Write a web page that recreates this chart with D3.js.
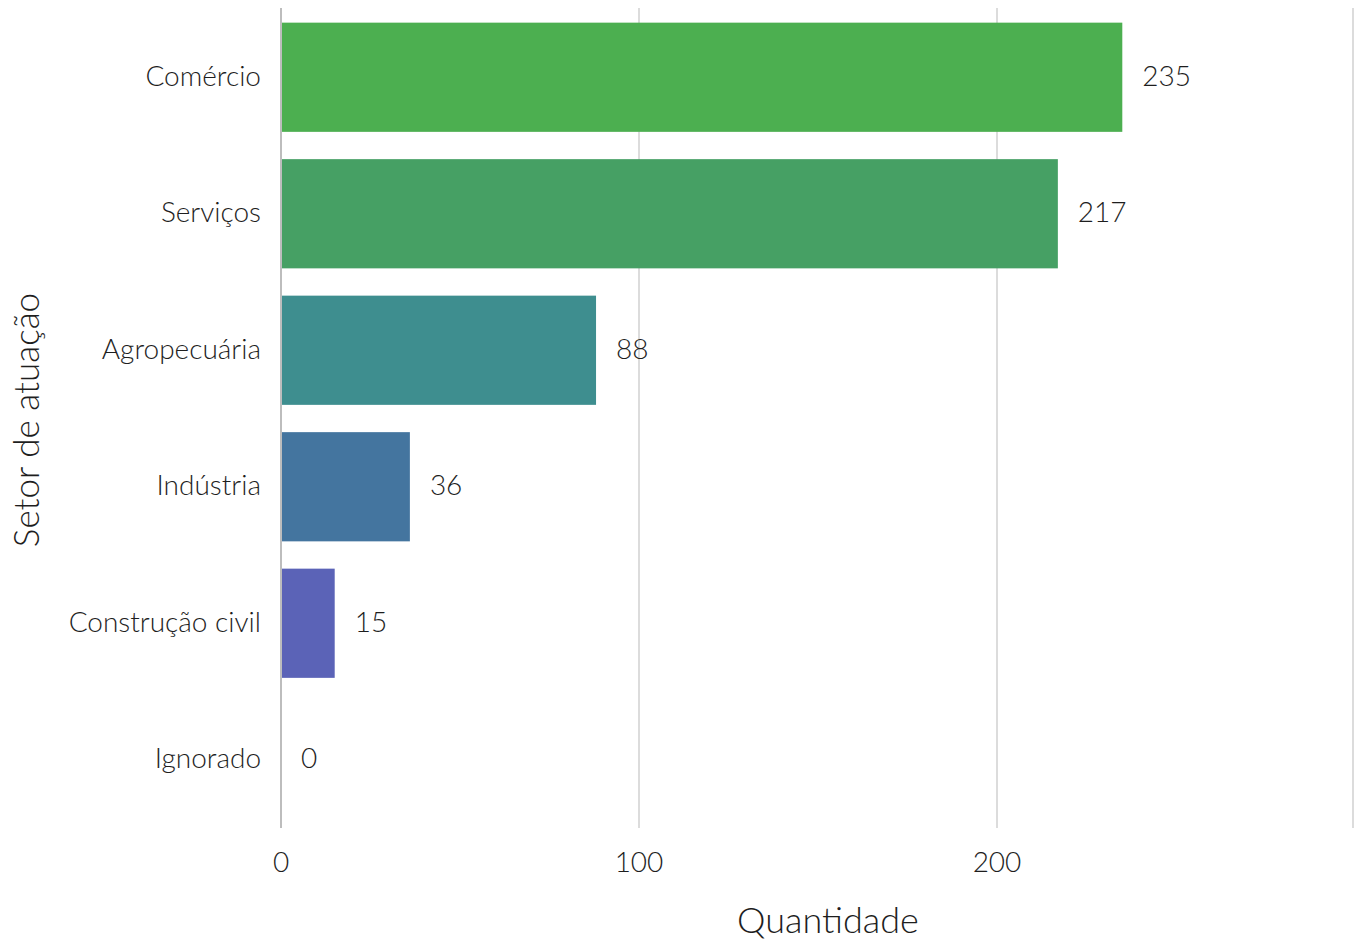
<!DOCTYPE html>
<html><head><meta charset="utf-8">
<script src="https://cdn.jsdelivr.net/npm/d3@7"></script>
<style>
html,body{margin:0;padding:0;background:#fff;}
text{font-family:Lato,sans-serif;font-weight:300;fill:#1e1e1e;}
</style></head>
<body><svg id="c" width="1361" height="942"></svg>
<script>
const categories = ["Comércio","Serviços","Agropecuária","Indústria","Construção civil","Ignorado"];
const values = [235,217,88,36,15,0];
const colors = ["#4caf50","#46a064","#3e8e8f","#44759f","#5b63b7","#9a8fb0"];
const xTicks = [0,100,200,300];
const xTickLabels = ["0","100","200",""];

const svg = d3.select("#c");
const x = d3.scaleLinear().domain([0,300]).range([281,1355]);
const y = d3.scaleBand().domain(categories).range([9,828]).paddingInner(0.2).paddingOuter(0.1);

// gridlines
svg.append("g").selectAll("line").data(xTicks.slice(1)).join("line")
  .attr("x1",d=>Math.min(1353,x(d))).attr("x2",d=>Math.min(1353,x(d))).attr("y1",8).attr("y2",828)
  .attr("stroke","#dcdcdc").attr("stroke-width",2);

// bars
svg.append("g").selectAll("rect").data(values).join("rect")
  .attr("x",x(0)).attr("y",(d,i)=>y(categories[i]))
  .attr("width",d=>Math.max(0,x(d)-x(0))).attr("height",y.bandwidth())
  .attr("fill",(d,i)=>colors[i]);

// zero line
svg.append("line").attr("x1",x(0)).attr("x2",x(0)).attr("y1",8).attr("y2",828)
  .attr("stroke","#bdbdbd").attr("stroke-width",2);

// value labels
svg.append("g").selectAll("text").data(values).join("text")
  .attr("x",d=>x(d)+20).attr("y",(d,i)=>y(categories[i])+y.bandwidth()/2)
  .attr("dy","0.3em").attr("font-size",28).text(d=>d);

// category labels
svg.append("g").selectAll("text").data(categories).join("text")
  .attr("x",261).attr("y",d=>y(d)+y.bandwidth()/2).attr("dy","0.3em")
  .attr("text-anchor","end").attr("font-size",28).text(d=>d);

// x tick labels
svg.append("g").selectAll("text").data(xTicks).join("text")
  .attr("x",d=>x(d)).attr("y",862).attr("dy","0.35em")
  .attr("text-anchor","middle").attr("font-size",28).text((d,i)=>xTickLabels[i]);

// axis titles
svg.append("text").attr("x",828).attr("y",920).attr("dy","0.35em")
  .attr("text-anchor","middle").attr("font-size",36).text("Quantidade");
svg.append("text").attr("transform","translate(27,420) rotate(-90)").attr("dy","0.35em")
  .attr("text-anchor","middle").attr("font-size",35).text("Setor de atuação");
</script></body></html>
